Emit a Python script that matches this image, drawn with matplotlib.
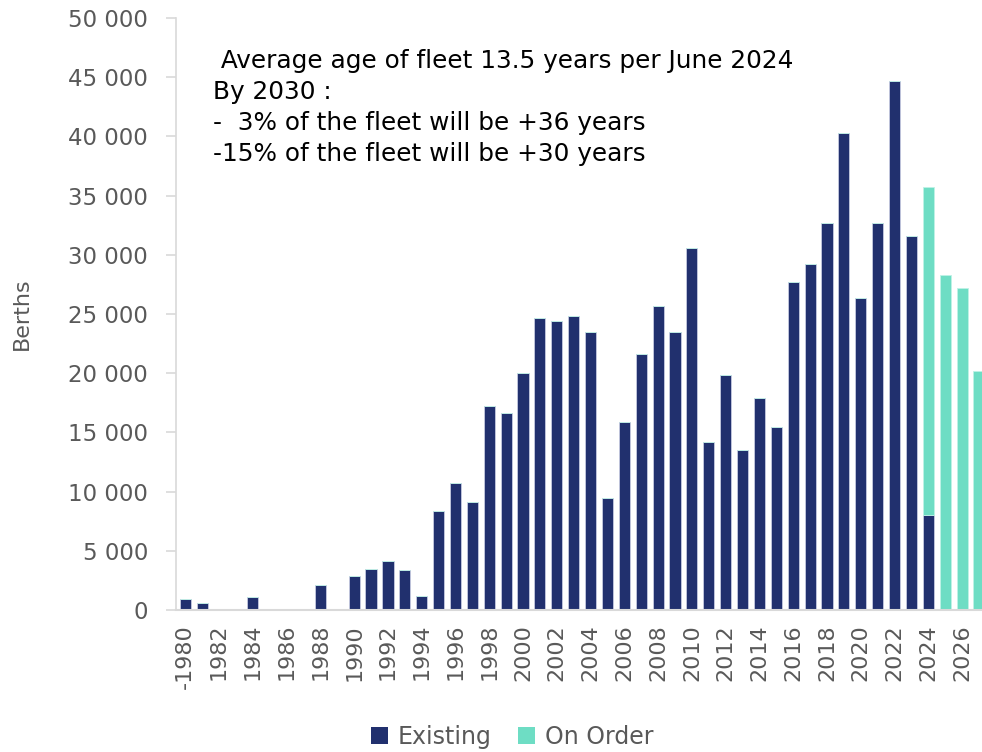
import matplotlib
matplotlib.use("Agg")
import matplotlib.pyplot as plt
from matplotlib.patches import Patch
import numpy as np

years = list(range(1980, 2028))
existing = [930, 620, 0, 0, 1070, 0, 0, 0, 2080, 0,
            2840, 3440, 4140, 3350, 1210, 8350, 10740, 9150, 17230, 16660,
            20020, 24640, 24380, 24830, 23480, 9460, 15880, 21590, 25680, 23510,
            30600, 14170, 19820, 13540, 17910, 15460, 27680, 29220, 32660, 40260,
            26350, 32660, 44680, 31560, 8000, 0, 0, 0]
on_order = [0] * 44 + [27700, 28290, 27170, 20190]
tick_labels = ["-1980" if y == 1980 else str(y) for y in years[::2]]
yticks = list(range(0, 50001, 5000))
ytick_labels = [f"{v:,}".replace(",", " ") for v in yticks]

c_exist = "#21306E"
c_order = "#6EDDC4"
gray = "#595959"

plt.rcParams['font.family'] = ['DejaVu Sans']
fig = plt.figure(figsize=(9.82, 7.52), dpi=100)
ax = fig.add_axes([176/982, 142/752, 1 - 176/982, (610 - 18)/752])

x = np.arange(len(years))
ax.bar(x, existing, width=0.66, color=c_exist, edgecolor="#c5cae0", linewidth=0.6, label="Existing", zorder=2)
ax.bar(x, on_order, width=0.66, bottom=existing, color=c_order, edgecolor="#bff2e6", linewidth=0.6, label="On Order", zorder=2)

ax.set_xlim(-0.55, len(years) - 1 + 0.18)
ax.set_ylim(0, 50000)
ax.set_yticks(yticks)
ax.set_yticklabels(ytick_labels, fontsize=16.5, color=gray)
ax.set_xticks(x[::2])
ax.set_xticklabels(tick_labels, rotation=90, fontsize=16, color=gray,
                   family=['Liberation Sans Narrow', 'DejaVu Sans'])
ax.tick_params(axis='x', length=0, pad=10)
ax.tick_params(axis='y', length=7, width=1.2, color="#d9d9d9", pad=13)

for s in ['top', 'right']:
    ax.spines[s].set_visible(False)
ax.spines['left'].set_color("#d9d9d9")
ax.spines['left'].set_linewidth(1.2)
ax.spines['bottom'].set_color("#d9d9d9")
ax.spines['bottom'].set_linewidth(1.5)

ax.set_ylabel("Berths", fontsize=16, color=gray)
ax.yaxis.set_label_coords(-(176 - 32) / 806, 0.5)

note = (" Average age of fleet 13.5 years per June 2024\n"
        "By 2030 :\n"
        "-  3% of the fleet will be +36 years\n"
        "-15% of the fleet will be +30 years")
fig.text(213/982, 1 - 49/752, note, fontsize=17.8, color="black", va="top", ha="left",
         linespacing=1.37)

handles = [Patch(facecolor=c_exist, edgecolor="none", label="Existing"),
           Patch(facecolor=c_order, edgecolor="none", label="On Order")]
fig.legend(handles=handles, loc="center", bbox_to_anchor=(512/982, 1 - 737/752), ncol=2,
           frameon=False, fontsize=17, labelcolor=gray, handlelength=0.75, handleheight=0.75,
           handletextpad=0.4, columnspacing=1.1)

fig.savefig("out.png", dpi=100)
